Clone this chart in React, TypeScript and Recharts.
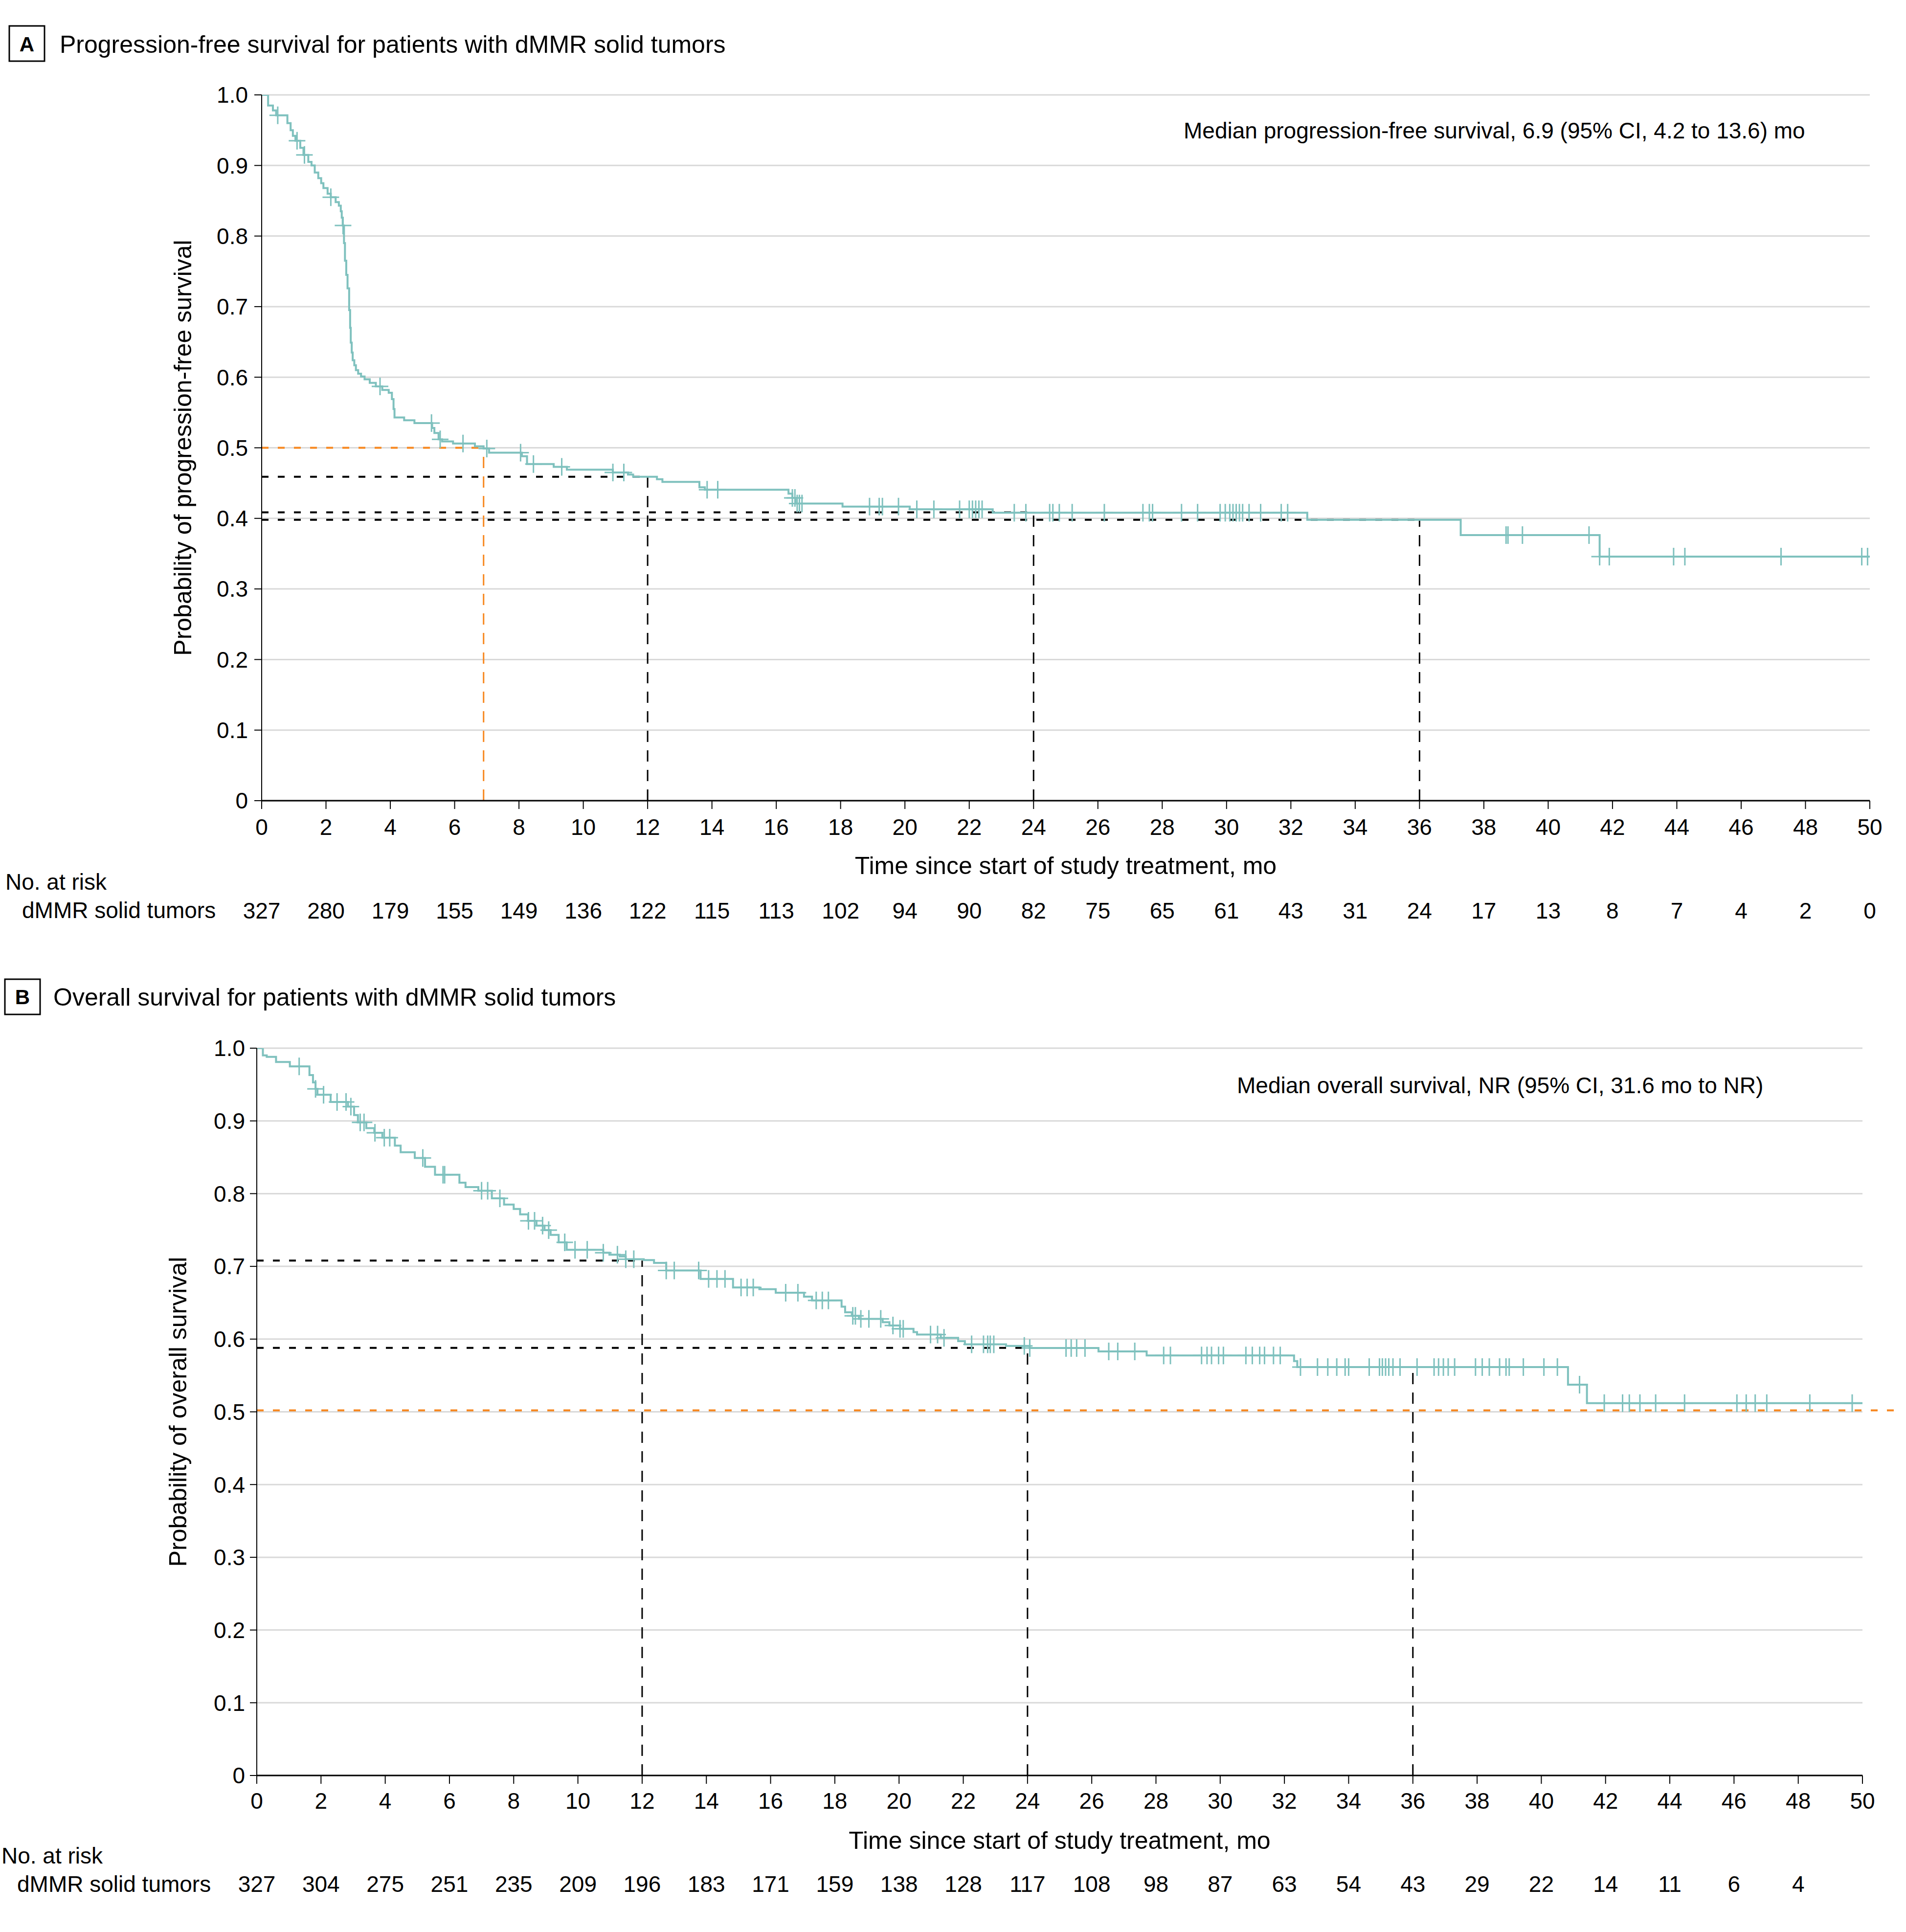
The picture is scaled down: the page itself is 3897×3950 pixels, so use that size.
import React from 'react';
import { ComposedChart, Line, Scatter, XAxis, YAxis, CartesianGrid, ReferenceLine } from 'recharts';

// ---------- data ----------
const monthTicks = [0, 2, 4, 6, 8, 10, 12, 14, 16, 18, 20, 22, 24, 26, 28, 30, 32, 34, 36, 38, 40, 42, 44, 46, 48, 50];
const survTicks = [0, 0.1, 0.2, 0.3, 0.4, 0.5, 0.6, 0.7, 0.8, 0.9, 1.0];

const pfsTimes = [0, 0.2, 0.35, 0.45, 0.8, 0.9, 0.97, 1.05, 1.2, 1.3, 1.45, 1.55, 1.65, 1.76, 1.85, 1.92, 2.05, 2.15, 2.3, 2.4, 2.46, 2.49, 2.52, 2.56, 2.59, 2.63, 2.67, 2.72, 2.75, 2.77, 2.8, 2.83, 2.88, 2.93, 3.0, 3.09, 3.2, 3.36, 3.55, 3.75, 3.95, 4.05, 4.1, 4.13, 4.43, 4.75, 5.3, 5.37, 5.5, 5.61, 5.95, 6.63, 6.9, 7.07, 8.09, 8.25, 9.08, 9.49, 10.92, 11.39, 11.55, 12.29, 12.46, 13.61, 13.78, 16.38, 16.5, 16.6, 18.06, 20.15, 22.73, 32.51, 37.28, 41.6, 50];
const pfsSurv = [1.0, 0.985, 0.978, 0.971, 0.96, 0.95, 0.942, 0.935, 0.925, 0.915, 0.905, 0.9, 0.89, 0.882, 0.875, 0.868, 0.86, 0.855, 0.848, 0.843, 0.835, 0.826, 0.815, 0.79, 0.765, 0.745, 0.726, 0.695, 0.67, 0.649, 0.635, 0.624, 0.617, 0.61, 0.605, 0.601, 0.597, 0.592, 0.587, 0.582, 0.578, 0.569, 0.555, 0.543, 0.539, 0.535, 0.528, 0.521, 0.512, 0.509, 0.506, 0.502, 0.499, 0.493, 0.488, 0.477, 0.473, 0.469, 0.465, 0.462, 0.459, 0.4555, 0.4516, 0.444, 0.4405, 0.435, 0.429, 0.421, 0.4167, 0.4128, 0.408, 0.398, 0.3763, 0.3458, 0.3458];
const pfsCensorTimes = [0.5, 1.1, 1.33, 2.15, 2.53, 3.68, 5.28, 5.55, 6.26, 7.0, 8.05, 8.45, 9.33, 10.92, 11.26, 13.85, 14.18, 16.5, 16.58, 16.65, 16.72, 16.8, 18.9, 19.2, 19.3, 19.8, 20.37, 20.9, 21.7, 22.0, 22.1, 22.2, 22.3, 22.4, 23.4, 23.76, 24.5, 24.6, 24.8, 25.2, 26.2, 27.4, 27.6, 27.7, 28.6, 29.1, 29.8, 29.96, 30.1, 30.2, 30.3, 30.4, 30.5, 30.7, 31.06, 31.7, 31.9, 38.69, 38.75, 39.2, 41.27, 41.6, 41.9, 43.9, 44.25, 47.24, 49.75, 49.93];
const pfsAtRisk = [327, 280, 179, 155, 149, 136, 122, 115, 113, 102, 94, 90, 82, 75, 65, 61, 43, 31, 24, 17, 13, 8, 7, 4, 2, 0];
const pfsMedian = 6.9;
const pfsLandmarkTimes = [12, 24, 36];
const pfsLandmarkSurv = [0.459, 0.4086, 0.398];

const osTimes = [0, 0.19, 0.31, 0.6, 1.03, 1.64, 1.75, 1.83, 1.89, 2.3, 2.84, 3.03, 3.15, 3.41, 3.66, 3.91, 4.3, 4.48, 4.92, 5.24, 5.55, 6.31, 6.5, 6.9, 7.32, 7.7, 8.0, 8.2, 8.45, 8.71, 8.96, 9.15, 9.4, 9.65, 10.79, 10.98, 11.3, 11.49, 12.05, 12.37, 12.75, 13.82, 14.83, 15.65, 16.16, 17.04, 17.29, 18.21, 18.32, 18.53, 18.75, 19.49, 19.7, 20.03, 20.45, 20.56, 21.3, 21.84, 22.05, 23.33, 24.07, 26.21, 27.71, 32.3, 32.4, 40.83, 41.42, 50];
const osSurv = [1.0, 0.99, 0.988, 0.981, 0.975, 0.963, 0.953, 0.944, 0.936, 0.926, 0.9196, 0.908, 0.898, 0.89, 0.8836, 0.877, 0.866, 0.857, 0.849, 0.837, 0.826, 0.815, 0.809, 0.804, 0.7935, 0.785, 0.779, 0.7716, 0.7626, 0.756, 0.7498, 0.7432, 0.733, 0.7228, 0.7187, 0.716, 0.7137, 0.7098, 0.7087, 0.7048, 0.6944, 0.6828, 0.671, 0.6687, 0.6637, 0.6584, 0.6532, 0.6446, 0.6368, 0.632, 0.6277, 0.6233, 0.6187, 0.6142, 0.6097, 0.6063, 0.6017, 0.5972, 0.5928, 0.5906, 0.5877, 0.583, 0.5775, 0.5697, 0.5615, 0.5373, 0.512, 0.512];
const osCensorTimes = [1.32, 1.83, 2.08, 2.5, 2.78, 2.93, 3.22, 3.34, 3.68, 3.97, 4.14, 5.17, 5.8, 5.85, 7.0, 7.19, 7.57, 8.46, 8.65, 8.9, 9.09, 9.59, 9.91, 10.29, 10.79, 11.23, 11.49, 11.74, 12.75, 13.0, 13.76, 14.07, 14.33, 14.58, 15.08, 15.27, 15.46, 16.47, 16.85, 17.42, 17.61, 17.8, 18.56, 18.64, 18.81, 19.06, 19.43, 19.81, 20.03, 20.13, 20.98, 21.2, 21.4, 22.26, 22.63, 22.76, 22.84, 22.95, 23.9, 24.07, 25.2, 25.36, 25.53, 25.79, 26.53, 26.81, 27.34, 28.24, 28.45, 29.42, 29.59, 29.73, 29.95, 30.1, 30.8, 31.0, 31.23, 31.38, 31.66, 31.87, 32.5, 33.03, 33.35, 33.63, 33.89, 34.0, 34.64, 34.96, 35.05, 35.15, 35.25, 35.38, 35.6, 36.13, 36.66, 36.8, 36.95, 37.1, 37.3, 37.95, 38.16, 38.38, 38.7, 38.9, 39.0, 39.44, 40.08, 40.5, 41.19, 41.96, 42.53, 42.74, 43.07, 43.56, 44.46, 46.09, 46.38, 46.66, 47.02, 48.36, 49.68];
const osAtRisk = [327, 304, 275, 251, 235, 209, 196, 183, 171, 159, 138, 128, 117, 108, 98, 87, 63, 54, 43, 29, 22, 14, 11, 6, 4];
const osMedianLevel = 0.502;
const osMedianLineEnd = 51;
const osLandmarkTimes = [12, 24, 36];
const osLandmarkSurv = [0.708, 0.588, 0.561];
const osLandmarkHorizontal = [true, true, false];

// ---------- helpers ----------
const FONT = "'Liberation Sans', Arial, Helvetica, sans-serif";
const TEAL = '#7fc1be';
const ORANGE = '#f7871f';

function survAt(times: number[], surv: number[], t: number) {
  let v = surv[0];
  for (let i = 0; i < times.length; i++) {
    if (times[i] <= t) v = surv[i];
    else break;
  }
  return v;
}
const buildCurve = (times: number[], surv: number[]) => times.map((t, i) => ({ t, s: surv[i] }));
const buildCensors = (ct: number[], times: number[], surv: number[]) =>
  ct.map((t) => ({ t, s: survAt(times, surv, t) }));

const pfsCurve = buildCurve(pfsTimes, pfsSurv);
const pfsCensors = buildCensors(pfsCensorTimes, pfsTimes, pfsSurv);
const osCurve = buildCurve(osTimes, osSurv);
const osCensors = buildCensors(osCensorTimes, osTimes, osSurv);

const CensorMark = (props: any) => {
  const { cx, cy } = props;
  if (cx == null || cy == null) return <g />;
  return (
    <path
      d={`M${cx - 17},${cy}H${cx + 17}M${cx},${cy - 18}V${cy + 18}`}
      stroke={TEAL}
      strokeWidth={3}
      fill="none"
    />
  );
};

const fmtSurv = (v: number) => (v === 0 ? '0' : v.toFixed(1));

type PanelProps = {
  top: number;
  height: number;
  margin: { top: number; right: number; bottom: number; left: number };
  yWidth: number;
  curve: { t: number; s: number }[];
  censors: { t: number; s: number }[];
  atRisk: number[];
  xTickMargin: number;
  riskTickMargin: number;
  yTickSize: number;
  yTickMargin: number;
  refs: React.ReactNode[];
};

function Panel(p: PanelProps) {
  const tickStyle = { fill: '#000', fontSize: 46, fontFamily: FONT };
  return (
    <div style={{ position: 'absolute', left: 0, top: p.top, width: 3897, height: p.height }}>
      <ComposedChart width={3897} height={p.height} margin={p.margin}>
        <CartesianGrid vertical={false} stroke="#d9d9d9" strokeWidth={3} />
        <XAxis
          xAxisId={0}
          dataKey="t"
          type="number"
          domain={[0, 50]}
          ticks={monthTicks}
          interval={0}
          height={190}
          tickSize={17}
          tickMargin={p.xTickMargin}
          axisLine={{ stroke: '#000', strokeWidth: 3 }}
          tickLine={{ stroke: '#000', strokeWidth: 2 }}
          tick={tickStyle}
          allowDataOverflow
        />
        <XAxis
          xAxisId="risk"
          dataKey="t"
          type="number"
          domain={[0, 50]}
          ticks={monthTicks}
          interval={0}
          height={80}
          tickSize={0}
          tickMargin={p.riskTickMargin}
          axisLine={false}
          tickLine={false}
          tick={tickStyle}
          tickFormatter={(v: number) => {
            const i = Math.round(v / 2);
            return p.atRisk[i] === undefined ? '' : String(p.atRisk[i]);
          }}
          allowDataOverflow
        />
        <YAxis
          dataKey="s"
          type="number"
          domain={[0, 1]}
          ticks={survTicks}
          interval={0}
          width={p.yWidth}
          tickSize={p.yTickSize}
          tickMargin={p.yTickMargin}
          axisLine={{ stroke: '#000', strokeWidth: 2 }}
          tickLine={{ stroke: '#000', strokeWidth: 2 }}
          tick={tickStyle}
          tickFormatter={fmtSurv}
          allowDataOverflow
        />
        {p.refs}
        <Line
          data={p.curve}
          dataKey="s"
          type="stepAfter"
          stroke={TEAL}
          strokeWidth={4}
          dot={false}
          activeDot={false}
          isAnimationActive={false}
        />
        <Scatter data={p.censors} dataKey="s" shape={CensorMark} isAnimationActive={false} />
        <Scatter xAxisId="risk" data={monthTicks.map((t) => ({ t, s: 0 }))} dataKey="s" shape={() => <g />} isAnimationActive={false} />
      </ComposedChart>
    </div>
  );
}

const dashH = '14 19';
const dashV = '23 17';

const pfsRefs: React.ReactNode[] = [];
pfsLandmarkTimes.forEach((t, i) => {
  const s = pfsLandmarkSurv[i];
  pfsRefs.push(
    <ReferenceLine key={`ph${i}`} segment={[{ x: 0, y: s }, { x: t, y: s }]} stroke="#000" strokeWidth={4} strokeDasharray={dashH} ifOverflow="visible" />
  );
  pfsRefs.push(
    <ReferenceLine key={`pv${i}`} segment={[{ x: t, y: 0 }, { x: t, y: s }]} stroke="#000" strokeWidth={3} strokeDasharray={dashV} ifOverflow="visible" />
  );
});
pfsRefs.push(
  <ReferenceLine key="pmh" segment={[{ x: 0, y: 0.5 }, { x: pfsMedian, y: 0.5 }]} stroke={ORANGE} strokeWidth={4} strokeDasharray={dashH} ifOverflow="visible" />
);
pfsRefs.push(
  <ReferenceLine key="pmv" segment={[{ x: pfsMedian, y: 0 }, { x: pfsMedian, y: 0.5 }]} stroke={ORANGE} strokeWidth={3} strokeDasharray={dashV} ifOverflow="visible" />
);

const osRefs: React.ReactNode[] = [];
osLandmarkTimes.forEach((t, i) => {
  const s = osLandmarkSurv[i];
  if (osLandmarkHorizontal[i]) {
    osRefs.push(
      <ReferenceLine key={`oh${i}`} segment={[{ x: 0, y: s }, { x: t, y: s }]} stroke="#000" strokeWidth={4} strokeDasharray={dashH} ifOverflow="visible" />
    );
  }
  osRefs.push(
    <ReferenceLine key={`ov${i}`} segment={[{ x: t, y: 0 }, { x: t, y: s }]} stroke="#000" strokeWidth={3} strokeDasharray={dashV} ifOverflow="visible" />
  );
});
osRefs.push(
  <ReferenceLine key="omh" segment={[{ x: 0, y: osMedianLevel }, { x: osMedianLineEnd, y: osMedianLevel }]} stroke={ORANGE} strokeWidth={4} strokeDasharray={dashH} ifOverflow="visible" />
);

export default function App() {
  const txt = { fontFamily: FONT, fill: '#000' } as const;
  return (
    <div style={{ position: 'absolute', left: 0, top: 0, width: 3897, height: 3950, background: '#fff', fontFamily: FONT }}>
      <Panel
        top={0}
        height={1950}
        margin={{ top: 194, right: 74, bottom: 43, left: 0 }}
        yWidth={535}
        curve={pfsCurve}
        censors={pfsCensors}
        atRisk={pfsAtRisk}
        xTickMargin={20}
        riskTickMargin={18}
        yTickSize={15}
        yTickMargin={13}
        refs={pfsRefs}
      />
      <Panel
        top={1950}
        height={2000}
        margin={{ top: 193, right: 89, bottom: 50, left: 0 }}
        yWidth={525}
        curve={osCurve}
        censors={osCensors}
        atRisk={osAtRisk}
        xTickMargin={18}
        riskTickMargin={15}
        yTickSize={14}
        yTickMargin={10}
        refs={osRefs}
      />
      <svg width={3897} height={3950} style={{ position: 'absolute', left: 0, top: 0, pointerEvents: 'none' }}>
        {/* Panel A */}
        <rect x={19} y={53} width={72} height={72} fill="none" stroke="#000" strokeWidth={3} />
        <text x={55} y={105} textAnchor="middle" fontSize={42} fontWeight="bold" {...txt}>A</text>
        <text x={122} y={108} fontSize={50} {...txt}>Progression-free survival for patients with dMMR solid tumors</text>
        <text x={2420} y={283} fontSize={46} {...txt}>Median progression-free survival, 6.9 (95% CI, 4.2 to 13.6) mo</text>
        <text x={391} y={915.5} fontSize={50} textAnchor="middle" transform="rotate(-90 391 915.5)" {...txt}>Probability of progression-free survival</text>
        <text x={2179} y={1787} fontSize={50} textAnchor="middle" {...txt}>Time since start of study treatment, mo</text>
        <text x={11} y={1819} fontSize={46} {...txt}>No. at risk</text>
        <text x={45} y={1877} fontSize={46} {...txt}>dMMR solid tumors</text>
        {/* Panel B */}
        <rect x={10} y={2002} width={72} height={72} fill="none" stroke="#000" strokeWidth={3} />
        <text x={46} y={2053} textAnchor="middle" fontSize={42} fontWeight="bold" {...txt}>B</text>
        <text x={109} y={2056} fontSize={50} {...txt}>Overall survival for patients with dMMR solid tumors</text>
        <text x={2529} y={2235} fontSize={46} {...txt}>Median overall survival, NR (95% CI, 31.6 mo to NR)</text>
        <text x={381} y={2886.5} fontSize={50} textAnchor="middle" transform="rotate(-90 381 2886.5)" {...txt}>Probability of overall survival</text>
        <text x={2166.5} y={3780} fontSize={50} textAnchor="middle" {...txt}>Time since start of study treatment, mo</text>
        <text x={3} y={3810} fontSize={46} {...txt}>No. at risk</text>
        <text x={35} y={3868} fontSize={46} {...txt}>dMMR solid tumors</text>
      </svg>
    </div>
  );
}
